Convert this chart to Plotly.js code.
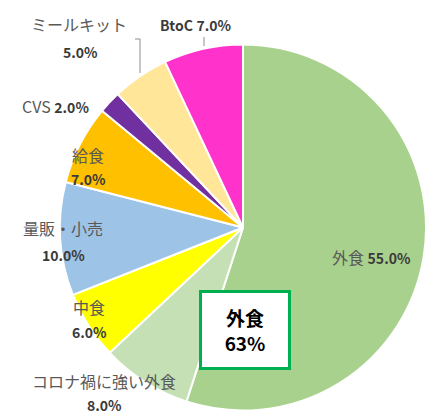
<!DOCTYPE html>
<html><head><meta charset="utf-8">
<script src="https://cdn.plot.ly/plotly-3.0.1.min.js"></script>
<style>html,body{margin:0;padding:0;background:#fff}#chart{width:426px;height:414px}</style>
</head><body><div id="chart"></div>
<script>
const labels = ['外食','コロナ禍に強い外食','中食','量販・小売','給食','CVS','ミールキット','BtoC'];
const values = [55.0, 8.0, 6.0, 10.0, 7.0, 2.0, 5.0, 7.0];
const colors = ['#A9D18E','#C5E0B4','#FFFF00','#9DC3E6','#FFC000','#7030A0','#FFE699','#FF33CC'];
const totalLabel = '外食';
const totalValue = values[0] + values[1];

const W = 426, H = 414;
const px = x => x / W, py = y => 1 - y / H;
const nameFont = {family:'Noto Sans CJK JP, sans-serif', size:16, color:'#595959'};
const pctFont = {family:'Noto Sans CJK JP, sans-serif', size:14, color:'#3a3a3a'};
const pct = v => '<b>' + v.toFixed(1) + '%</b>';

const place = {
  '外食': {inline:[371,257]},
  'コロナ禍に強い外食': {name:[104,381], pct:[104,405]},
  '中食': {name:[89,307], pct:[89,332]},
  '量販・小売': {name:[63,228], pct:[63,255]},
  '給食': {name:[88,155], pct:[88,179]},
  'CVS': {inline:[55,106]},
  'ミールキット': {name:[79,24], pct:[80,52]},
  'BtoC': {inline:[196,24]}
};
const annotations = [];
labels.forEach((l,i) => {
  const p = place[l];
  if (p.inline) {
    const boldName = (l === 'BtoC');
    const nm = boldName ? '<b>'+l+'</b>' : l;
    annotations.push({xref:'paper',yref:'paper',x:px(p.inline[0]),y:py(p.inline[1]),
      text: '<span style="color:'+(boldName?'#3a3a3a':'#595959')+';font-size:'+(boldName?14:16)+'px">'+nm+'</span> <span style="font-size:14px;color:#3a3a3a">'+pct(values[i])+'</span>',
      showarrow:false, font:nameFont, xanchor:'center', yanchor:'middle'});
  } else {
    annotations.push({xref:'paper',yref:'paper',x:px(p.name[0]),y:py(p.name[1]),text:l,showarrow:false,font:nameFont,xanchor:'center',yanchor:'middle'});
    annotations.push({xref:'paper',yref:'paper',x:px(p.pct[0]),y:py(p.pct[1]),text:pct(values[i]),showarrow:false,font:pctFont,xanchor:'center',yanchor:'middle'});
  }
});
annotations.push({xref:'paper',yref:'paper',x:px(245),y:py(330),
  text:'<b>'+totalLabel+'</b><br><b>'+totalValue+'%</b>',showarrow:false,
  font:{family:'Noto Sans CJK JP, sans-serif',size:19,color:'#000'},
  bgcolor:'#fff',bordercolor:'#00B050',borderwidth:3,borderpad:1,width:84,height:72,
  xanchor:'center',yanchor:'middle'});

const lineStyle = {color:'#8c8c8c', width:1};
const shapes = [
  {type:'line',xref:'paper',yref:'paper',x0:px(135),y0:py(39),x1:px(140),y1:py(39),line:lineStyle},
  {type:'line',xref:'paper',yref:'paper',x0:px(140),y0:py(39),x1:px(140),y1:py(73),line:lineStyle},
  {type:'line',xref:'paper',yref:'paper',x0:px(204),y0:py(37),x1:px(204),y1:py(46),line:lineStyle}
];

Plotly.newPlot('chart', [{
  type:'pie', labels:labels, values:values, sort:false, direction:'clockwise', rotation:0,
  marker:{colors:colors, line:{color:'#ffffff', width:2}},
  textinfo:'none', hoverinfo:'none', showlegend:false,
  domain:{x:[px(60), 1], y:[py(412), py(43)]}
}], {
  width:W, height:H, margin:{l:0,r:0,t:0,b:0}, paper_bgcolor:'#fff',
  showlegend:false, annotations:annotations, shapes:shapes
}, {staticPlot:true});
</script></body></html>
